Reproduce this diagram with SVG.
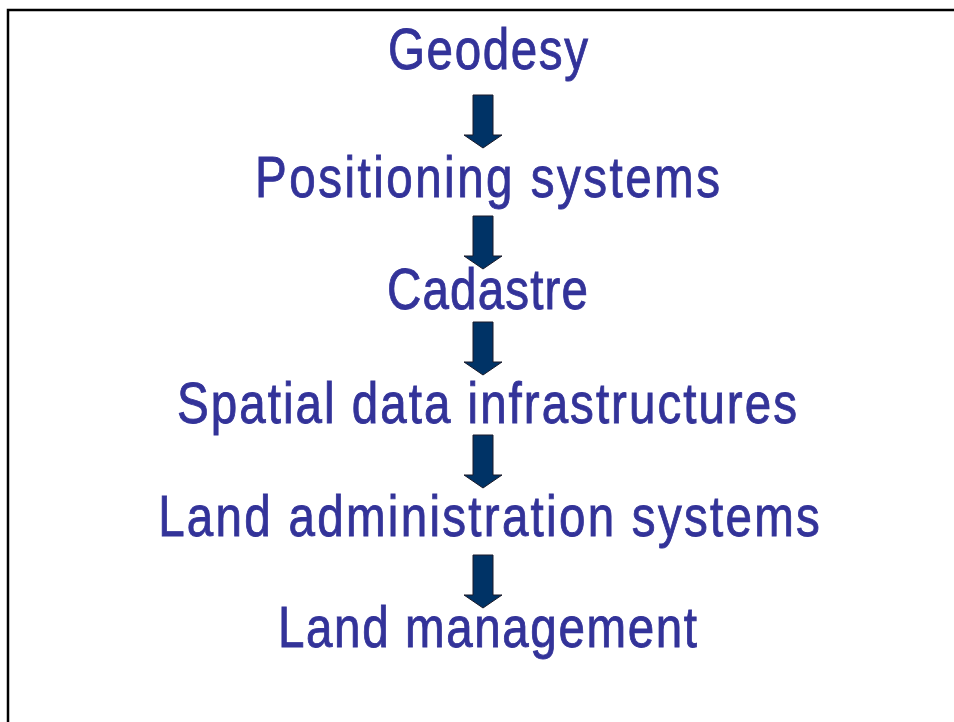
<svg xmlns="http://www.w3.org/2000/svg" xmlns:xlink="http://www.w3.org/1999/xlink" width="954" height="722" viewBox="0 0 954 722">
  <style>
    .lbl { font-family: "Liberation Sans", Arial, sans-serif; font-size: 58px; fill: #333399; stroke: #333399; stroke-width: 0.9; text-anchor: middle; }
    .arr { fill: #003366; stroke: #1a1a2a; stroke-width: 1; stroke-linejoin: miter; }
  </style>
  <defs>
    <path id="down" class="arr" d="M -10 0 H 10 V 40 H 19 L 0 53 L -19 40 H -10 Z"/>
  </defs>
  <rect x="0" y="0" width="954" height="722" fill="#ffffff"/>
  <path d="M 8 722 V 10 H 954" fill="none" stroke="#000000" stroke-width="2.5"/>

  <g id="connectors">
    <use xlink:href="#down" x="483" y="95"/>
    <use xlink:href="#down" x="483" y="216"/>
    <use xlink:href="#down" x="483" y="322"/>
    <use xlink:href="#down" x="483" y="435"/>
    <use xlink:href="#down" x="483" y="555"/>
  </g>

  <g id="geodesy" transform="translate(488,69) scale(0.82,1)"><text class="lbl" x="0" y="0" textLength="244" lengthAdjust="spacing">Geodesy</text></g>
  <g id="positioning" transform="translate(487.5,197) scale(0.82,1)"><text class="lbl" x="0" y="0" textLength="567" lengthAdjust="spacing">Positioning systems</text></g>
  <g id="cadastre" transform="translate(487.5,309) scale(0.82,1)"><text class="lbl" x="0" y="0" textLength="245" lengthAdjust="spacing">Cadastre</text></g>
  <g id="sdi" transform="translate(487,423) scale(0.82,1)"><text class="lbl" x="0" y="0" textLength="756" lengthAdjust="spacing">Spatial data infrastructures</text></g>
  <g id="las" transform="translate(489,536) scale(0.82,1)"><text class="lbl" x="0" y="0" textLength="807" lengthAdjust="spacing">Land administration systems</text></g>
  <g id="landmgmt" transform="translate(487.5,647) scale(0.82,1)"><text class="lbl" x="0" y="0" textLength="511" lengthAdjust="spacing">Land management</text></g>
</svg>
